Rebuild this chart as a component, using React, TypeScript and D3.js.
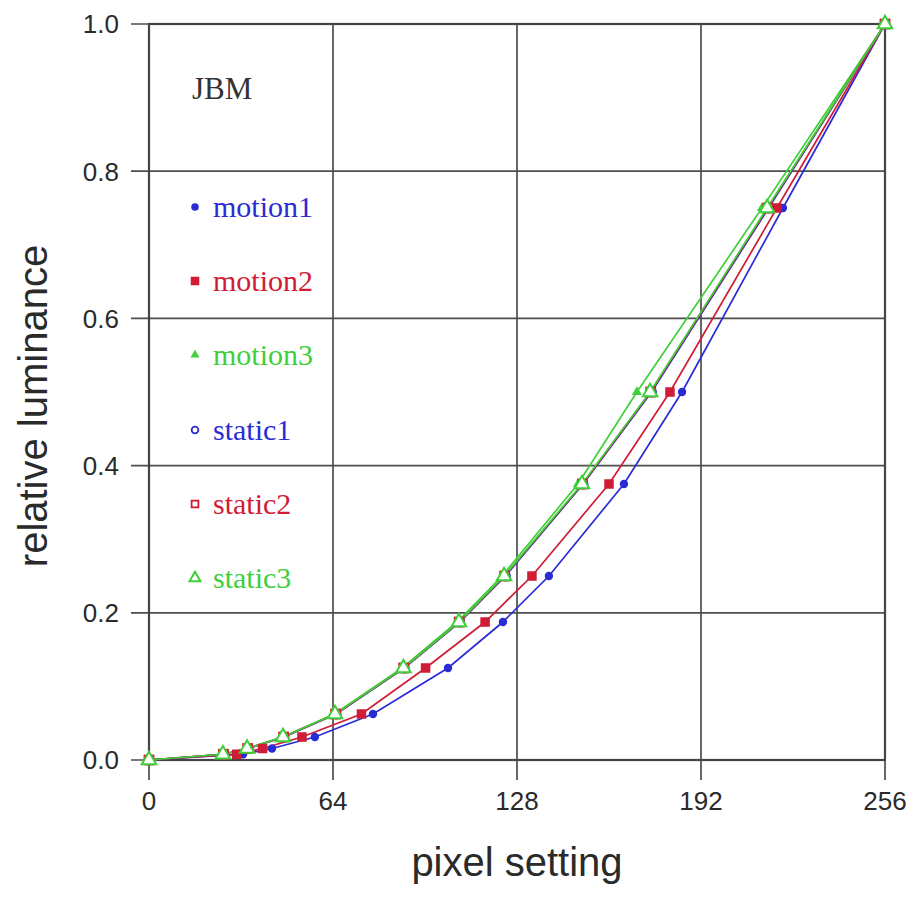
import React from "react";
import * as d3 from "d3";

// Luminance levels measured for each pixel setting
const luminanceLevels = [0, 0.0078, 0.0156, 0.03125, 0.0625, 0.125, 0.1875, 0.25, 0.375, 0.5, 0.75, 1.0];

const motion1 = [0, 32.7, 42.8, 57.7, 77.9, 104, 123.1, 139.1, 165.2, 185.4, 220.5, 256];
const motion2 = [0, 30.5, 39.5, 53.2, 73.9, 96.2, 116.9, 133.2, 160, 181.2, 218.4, 256];
const motion3 = [0, 25.5, 34, 46.4, 64.5, 88.1, 107.2, 122.8, 149.2, 169.7, 213.2, 256];
const static1 = [0, 26, 34.5, 47, 65.1, 88.8, 108.1, 124, 151, 174.8, 215.5, 256];
const static2 = [0, 25.9, 34.3, 46.8, 64.9, 88.6, 107.9, 123.7, 150.8, 174.5, 215.2, 256];
const static3 = [0, 25.7, 34.1, 46.6, 64.7, 88.5, 107.8, 123.5, 150.6, 174.3, 215, 256];

const xTicks = [0, 64, 128, 192, 256];
const yTicks = [0, 0.2, 0.4, 0.6, 0.8, 1.0];

type Shape = "circle" | "square" | "triangle";
interface Series {
  name: string;
  xs: number[];
  color: string;
  shape: Shape;
  filled: boolean;
}

const BLUE = "#2b2bd6";
const RED = "#d01c34";
const GREEN = "#3fcf3a";

const seriesList: Series[] = [
  { name: "motion1", xs: motion1, color: BLUE, shape: "circle", filled: true },
  { name: "motion2", xs: motion2, color: RED, shape: "square", filled: true },
  { name: "motion3", xs: motion3, color: GREEN, shape: "triangle", filled: true },
  { name: "static1", xs: static1, color: BLUE, shape: "circle", filled: false },
  { name: "static2", xs: static2, color: RED, shape: "square", filled: false },
  { name: "static3", xs: static3, color: GREEN, shape: "triangle", filled: false },
];

const W = 914;
const H = 903;
const left = 149;
const right = 885;
const top = 24;
const bottom = 760;

const SANS = "Liberation Sans, Arial, sans-serif";
const SERIF = "Liberation Serif, Times New Roman, serif";

function Marker({ shape, filled, color, x, y, size }: { shape: Shape; filled: boolean; color: string; x: number; y: number; size: number }) {
  if (shape === "circle") {
    const r = filled ? size * 0.42 : size * 0.45;
    return <circle cx={x} cy={y} r={r} fill={filled ? color : "none"} stroke={color} strokeWidth={filled ? 0 : 1.8} />;
  }
  if (shape === "square") {
    const s = filled ? size * 0.95 : size * 0.9;
    return <rect x={x - s / 2} y={y - s / 2} width={s} height={s} fill={filled ? color : "white"} stroke={color} strokeWidth={filled ? 0 : 1.8} />;
  }
  const s = filled ? size : size * 1.45;
  const h = (s * Math.sqrt(3)) / 2;
  const p = `M${x},${y - (2 * h) / 3} L${x + s / 2},${y + h / 3} L${x - s / 2},${y + h / 3} Z`;
  return <path d={p} fill={filled ? color : "white"} stroke={color} strokeWidth={filled ? 0 : 2} />;
}

export default function App() {
  const x = d3.scaleLinear().domain([0, 256]).range([left, right]);
  const y = d3.scaleLinear().domain([0, 1]).range([bottom, top]);
  const line = d3
    .line<[number, number]>()
    .x((d) => x(d[0]))
    .y((d) => y(d[1]));
  const fmt = d3.format(".1f");

  // legend text baselines
  const legendBase = [217, 291, 365, 440, 514, 588];

  return (
    <svg width={W} height={H} style={{ position: "absolute", left: 0, top: 0, background: "white" }}>
      <rect x={0} y={0} width={W} height={H} fill="white" />
      {/* grid */}
      {xTicks.map((t) => (
        <line key={"gx" + t} x1={x(t)} x2={x(t)} y1={top} y2={bottom + 20} stroke="#4d4d4d" strokeWidth={1.7} />
      ))}
      {yTicks.map((t) => (
        <line key={"gy" + t} x1={left - 18} x2={right} y1={y(t)} y2={y(t)} stroke="#4d4d4d" strokeWidth={1.7} />
      ))}
      <rect x={left} y={top} width={right - left} height={bottom - top} fill="none" stroke="#444" strokeWidth={2.2} />

      {/* tick labels */}
      {yTicks.map((t) => (
        <text key={"yl" + t} x={left - 30} y={y(t)} dy="0.36em" textAnchor="end" fontFamily={SANS} fontSize={26} fill="#2a2a2a">
          {fmt(t)}
        </text>
      ))}
      {xTicks.map((t) => (
        <text key={"xl" + t} x={x(t)} y={810} textAnchor="middle" fontFamily={SANS} fontSize={26} fill="#2a2a2a">
          {t}
        </text>
      ))}

      {/* axis titles */}
      <text x={517} y={876} textAnchor="middle" fontFamily={SANS} fontSize={40} fill="#2a2a2a">
        pixel setting
      </text>
      <text transform={`translate(47,${406}) rotate(-90)`} textAnchor="middle" fontFamily={SANS} fontSize={40} fill="#2a2a2a">
        relative luminance
      </text>

      {/* series lines */}
      {seriesList.map((s) => (
        <path
          key={"l" + s.name}
          d={line(s.xs.map((v, i) => [v, luminanceLevels[i]] as [number, number])) || ""}
          fill="none"
          stroke={s.color}
          strokeWidth={1.7}
        />
      ))}
      {/* series markers */}
      {seriesList.map((s) => (
        <g key={"m" + s.name}>
          {s.xs.map((v, i) => (
            <Marker key={i} shape={s.shape} filled={s.filled} color={s.color} x={x(v)} y={y(luminanceLevels[i])} size={10} />
          ))}
        </g>
      ))}

      {/* legend */}
      <text x={192} y={99} fontFamily={SERIF} fontSize={31} fill="#333">
        JBM
      </text>
      {seriesList.map((s, i) => (
        <g key={"lg" + s.name}>
          <Marker shape={s.shape} filled={s.filled} color={s.color} x={195} y={legendBase[i] - 10} size={s.filled ? 9 : 7.5} />
          <text x={213} y={legendBase[i]} fontFamily={SERIF} fontSize={30} fill={s.color}>
            {s.name}
          </text>
        </g>
      ))}
    </svg>
  );
}
